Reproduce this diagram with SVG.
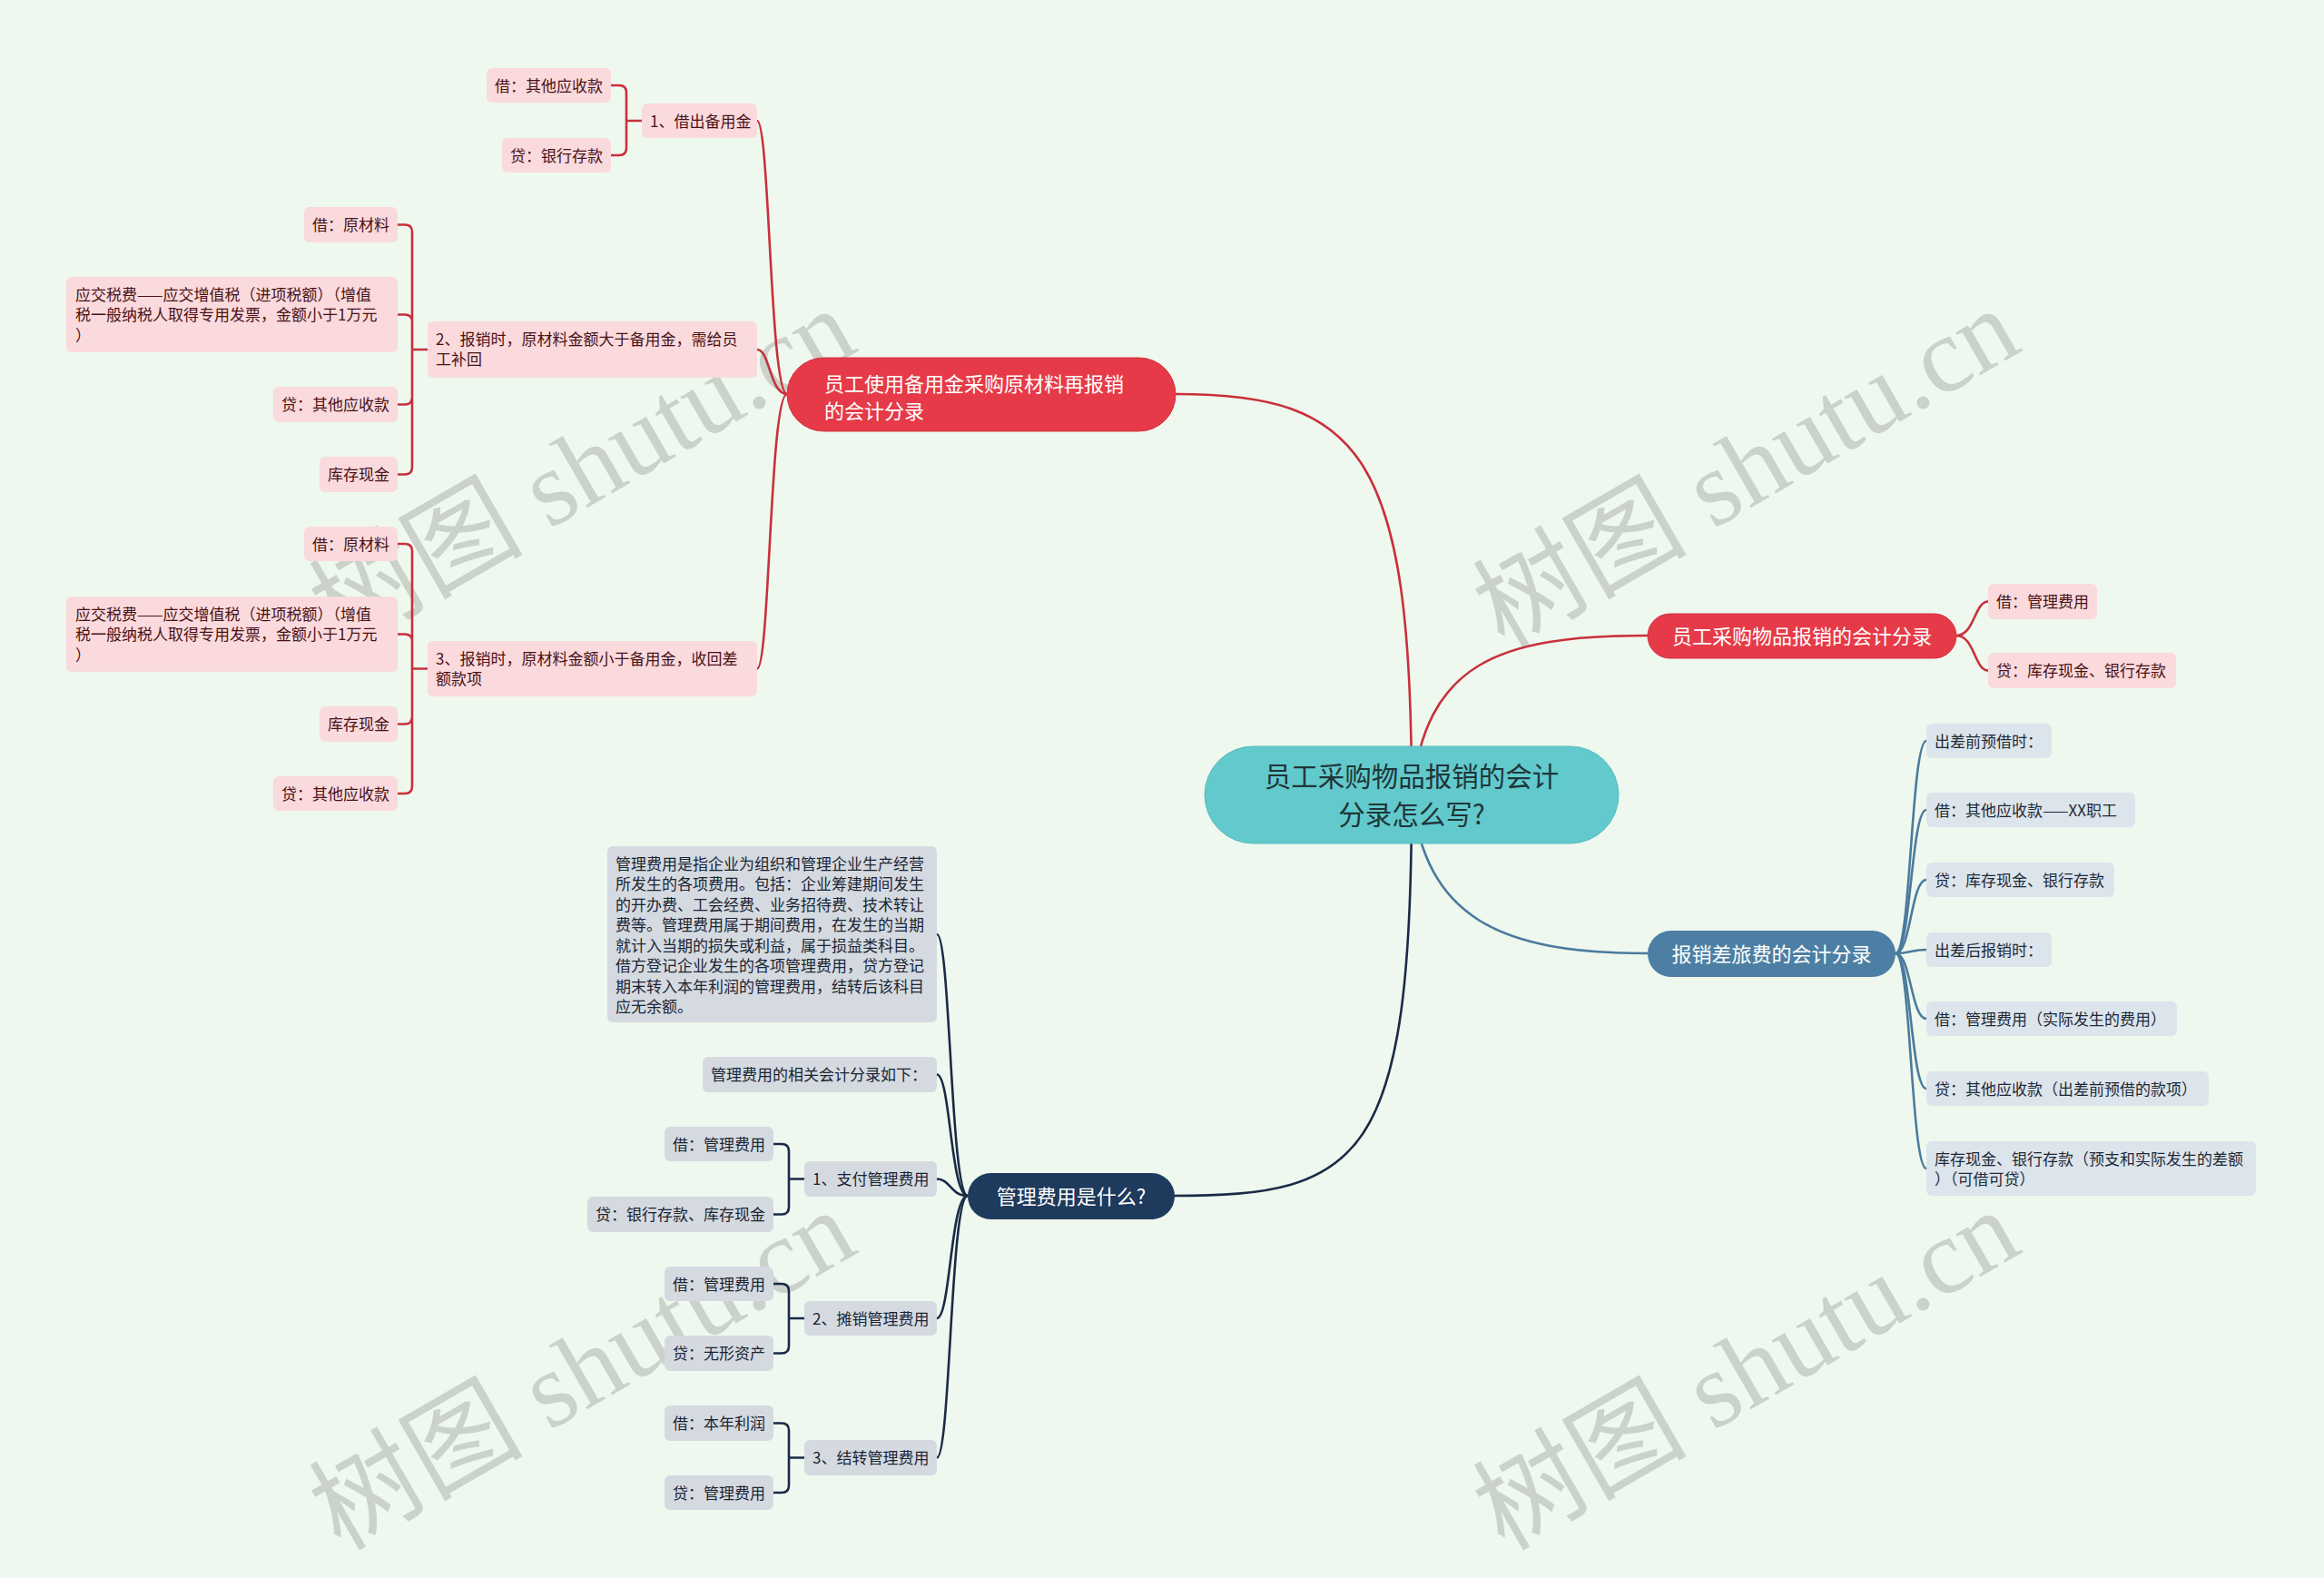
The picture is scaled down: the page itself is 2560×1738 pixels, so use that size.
<svg xmlns="http://www.w3.org/2000/svg" width="2560" height="1738" viewBox="0 0 2560 1738">
<style>
text{font-family:"Noto Sans CJK SC","Noto Sans",sans-serif;}
.wm{font-family:"Liberation Serif","Noto Sans CJK SC",serif;font-size:118px;fill:#8e948e;fill-opacity:0.38;}
.lr{fill:none;stroke:#C8303C;stroke-width:2.6;}
.lb{fill:none;stroke:#4A7B9D;stroke-width:2.6;}
.ln{fill:none;stroke:#1A2B48;stroke-width:2.6;}
.pk{fill:#FADADD;}
.pt{font-size:17px;fill:#4A1216;}
.bl{fill:#DCE4EC;}
.bt{font-size:17px;fill:#1E2A36;}
.gy{fill:#D5DAE1;}
.gt{font-size:17px;fill:#1B2533;}
.red{fill:#E63A48;stroke:#D3303D;stroke-width:1;}
.wt{font-size:22px;fill:#FFFFFF;}
</style>
<rect x="0" y="0" width="2560" height="1738" fill="#EFF8EE"/>
<g id="watermarks">
<text class="wm" x="645" y="555" text-anchor="middle" transform="rotate(-30 645 522)">树图 shutu.cn</text>
<text class="wm" x="1927" y="555" text-anchor="middle" transform="rotate(-30 1927 522)">树图 shutu.cn</text>
<text class="wm" x="645" y="1548" text-anchor="middle" transform="rotate(-30 645 1515)">树图 shutu.cn</text>
<text class="wm" x="1927" y="1548" text-anchor="middle" transform="rotate(-30 1927 1515)">树图 shutu.cn</text>
</g>
<g id="connectors">
<path class="lr" d="M1555,876 C1555,500 1500,434 1295,434"/>
<path class="lr" d="M1555,876 C1570,730 1650,700 1815,700"/>
<path class="lb" d="M1555,876 C1570,1010 1650,1050 1815,1050"/>
<path class="ln" d="M1555,876 C1555,1280 1500,1317 1293,1317"/>
<path class="lr" d="M867,434 C848,434 848,133 834,133"/>
<path class="lr" d="M867,434 C848,434 848,385 834,385"/>
<path class="lr" d="M867,434 C848,434 848,736.5 834,736.5"/>
<path class="lr" d="M707,133 H690 M673,94 H682 Q690,94 690,102 V133 M673,171 H682 Q690,171 690,163 V133"/>
<path class="lr" d="M471,385 H454 M438,247.5 H446 Q454,247.5 454,255.5 V385 M438,346.5 H446 Q454,346.5 454,354.5 V385 M438,445.5 H446 Q454,445.5 454,437.5 V385 M438,522.5 H446 Q454,522.5 454,514.5 V385"/>
<path class="lr" d="M471,736.5 H454 M438,599 H446 Q454,599 454,607 V736.5 M438,698.5 H446 Q454,698.5 454,706.5 V736.5 M438,797.5 H446 Q454,797.5 454,789.5 V736.5 M438,874 H446 Q454,874 454,866 V736.5"/>
<path class="lr" d="M2155,700 C2175,700 2175,662.5 2190,662.5"/>
<path class="lr" d="M2155,700 C2175,700 2175,738.5 2190,738.5"/>
<path class="lb" d="M2088,1050 C2105,1050 2105,816 2122,816"/>
<path class="lb" d="M2088,1050 C2105,1050 2105,892 2122,892"/>
<path class="lb" d="M2088,1050 C2105,1050 2105,969 2122,969"/>
<path class="lb" d="M2088,1050 C2105,1050 2105,1046 2122,1046"/>
<path class="lb" d="M2088,1050 C2105,1050 2105,1122 2122,1122"/>
<path class="lb" d="M2088,1050 C2105,1050 2105,1199 2122,1199"/>
<path class="lb" d="M2088,1050 C2105,1050 2105,1287 2122,1287"/>
<path class="ln" d="M1066,1317 C1047,1317 1047,1029 1032,1029"/>
<path class="ln" d="M1066,1317 C1047,1317 1047,1183.5 1032,1183.5"/>
<path class="ln" d="M1066,1317 C1047,1317 1047,1298.5 1032,1298.5"/>
<path class="ln" d="M1066,1317 C1047,1317 1047,1452 1032,1452"/>
<path class="ln" d="M1066,1317 C1047,1317 1047,1605.5 1032,1605.5"/>
<path class="ln" d="M886,1298.5 H869 M852,1260 H861 Q869,1260 869,1268 V1298.5 M852,1337.5 H861 Q869,1337.5 869,1329.5 V1298.5"/>
<path class="ln" d="M886,1452 H869 M852,1414 H861 Q869,1414 869,1422 V1452 M852,1490.5 H861 Q869,1490.5 869,1482.5 V1452"/>
<path class="ln" d="M886,1605.5 H869 M852,1567.5 H861 Q869,1567.5 869,1575.5 V1605.5 M852,1644 H861 Q869,1644 869,1636 V1605.5"/>
</g>
<g id="root">
<rect x="1327" y="822" width="456" height="107" rx="53.5" fill="#62C9CC" stroke="#58BEC2" stroke-width="1"/>
<text x="1555" y="866" text-anchor="middle" font-size="29.5" fill="#1F3537">员工采购物品报销的会计</text>
<text x="1555" y="908" text-anchor="middle" font-size="29.5" fill="#1F3537">分录怎么写?</text>
</g>
<g id="main-red-left">
<rect class="red" x="867" y="394" width="428" height="81" rx="40.5"/>
<text class="wt" x="908" y="430.5">员工使用备用金采购原材料再报销</text>
<text class="wt" x="908" y="460.5">的会计分录</text>
</g>
<g id="n1"><rect class="pk" x="707" y="114" width="127" height="38" rx="6"/><text class="pt" x="716" y="139.5">1、借出备用金</text></g>
<g id="n1a"><rect class="pk" x="536" y="75" width="137" height="38" rx="6"/><text class="pt" x="545" y="100.5">借：其他应收款</text></g>
<g id="n1b"><rect class="pk" x="553" y="152" width="120" height="38" rx="6"/><text class="pt" x="562" y="177.5">贷：银行存款</text></g>
<g id="n2"><rect class="pk" x="471" y="354" width="363" height="62" rx="6"/><text class="pt" x="480" y="379.5">2、报销时，原材料金额大于备用金，需给员</text><text class="pt" x="480" y="402">工补回</text></g>
<g id="n2a"><rect class="pk" x="335" y="228" width="103" height="39" rx="6"/><text class="pt" x="344" y="254">借：原材料</text></g>
<g id="n2b"><rect class="pk" x="73" y="305" width="365" height="83" rx="6"/><text class="pt" x="83" y="330.5">应交税费——应交增值税（进项税额）（增值</text><text class="pt" x="83" y="353">税一般纳税人取得专用发票，金额小于1万元</text><text class="pt" x="83" y="375.5">）</text></g>
<g id="n2c"><rect class="pk" x="301" y="426" width="137" height="39" rx="6"/><text class="pt" x="310" y="452">贷：其他应收款</text></g>
<g id="n2d"><rect class="pk" x="352" y="503" width="86" height="39" rx="6"/><text class="pt" x="361" y="529">库存现金</text></g>
<g id="n3"><rect class="pk" x="471" y="706" width="363" height="61" rx="6"/><text class="pt" x="480" y="731.5">3、报销时，原材料金额小于备用金，收回差</text><text class="pt" x="480" y="754">额款项</text></g>
<g id="n3a"><rect class="pk" x="335" y="580" width="103" height="38" rx="6"/><text class="pt" x="344" y="605.5">借：原材料</text></g>
<g id="n3b"><rect class="pk" x="73" y="657" width="365" height="83" rx="6"/><text class="pt" x="83" y="682.5">应交税费——应交增值税（进项税额）（增值</text><text class="pt" x="83" y="705">税一般纳税人取得专用发票，金额小于1万元</text><text class="pt" x="83" y="727.5">）</text></g>
<g id="n3c"><rect class="pk" x="352" y="778" width="86" height="39" rx="6"/><text class="pt" x="361" y="804">库存现金</text></g>
<g id="n3d"><rect class="pk" x="301" y="855" width="137" height="38" rx="6"/><text class="pt" x="310" y="880.5">贷：其他应收款</text></g>
<g id="main-red-right">
<rect class="red" x="1815" y="676" width="340" height="49" rx="24.5"/>
<text class="wt" x="1985" y="708.5" text-anchor="middle">员工采购物品报销的会计分录</text>
</g>
<g id="r1"><rect class="pk" x="2190" y="643" width="120" height="39" rx="6"/><text class="pt" x="2199" y="669">借：管理费用</text></g>
<g id="r2"><rect class="pk" x="2190" y="719" width="207" height="39" rx="6"/><text class="pt" x="2199" y="745">贷：库存现金、银行存款</text></g>
<g id="main-blue">
<rect x="1815" y="1025" width="273" height="51" rx="25.5" fill="#4C7FA3"/>
<text class="wt" x="1951.5" y="1058.5" text-anchor="middle">报销差旅费的会计分录</text>
</g>
<g id="b1"><rect class="bl" x="2122" y="797" width="138" height="38" rx="6"/><text class="bt" x="2131" y="822.5">出差前预借时：</text></g>
<g id="b2"><rect class="bl" x="2122" y="873" width="230" height="38" rx="6"/><text class="bt" x="2131" y="898.5">借：其他应收款——XX职工</text></g>
<g id="b3"><rect class="bl" x="2122" y="950" width="207" height="38" rx="6"/><text class="bt" x="2131" y="975.5">贷：库存现金、银行存款</text></g>
<g id="b4"><rect class="bl" x="2122" y="1027" width="138" height="38" rx="6"/><text class="bt" x="2131" y="1052.5">出差后报销时：</text></g>
<g id="b5"><rect class="bl" x="2122" y="1103" width="276" height="38" rx="6"/><text class="bt" x="2131" y="1128.5">借：管理费用（实际发生的费用）</text></g>
<g id="b6"><rect class="bl" x="2122" y="1180" width="311" height="38" rx="6"/><text class="bt" x="2131" y="1205.5">贷：其他应收款（出差前预借的款项）</text></g>
<g id="b7"><rect class="bl" x="2122" y="1257" width="363" height="60" rx="6"/><text class="bt" x="2131" y="1282.5">库存现金、银行存款（预支和实际发生的差额</text><text class="bt" x="2131" y="1305">）（可借可贷）</text></g>
<g id="main-navy">
<rect x="1066" y="1292" width="228" height="51" rx="25.5" fill="#1E3A5C"/>
<text class="wt" x="1180" y="1325.5" text-anchor="middle">管理费用是什么?</text>
</g>
<g id="d1"><rect class="gy" x="669" y="932" width="363" height="194" rx="6"/>
<text class="gt" x="678" y="957.5">管理费用是指企业为组织和管理企业生产经营</text>
<text class="gt" x="678" y="980">所发生的各项费用。包括：企业筹建期间发生</text>
<text class="gt" x="678" y="1002.5">的开办费、工会经费、业务招待费、技术转让</text>
<text class="gt" x="678" y="1025">费等。管理费用属于期间费用，在发生的当期</text>
<text class="gt" x="678" y="1047.5">就计入当期的损失或利益，属于损益类科目。</text>
<text class="gt" x="678" y="1070">借方登记企业发生的各项管理费用，贷方登记</text>
<text class="gt" x="678" y="1092.5">期末转入本年利润的管理费用，结转后该科目</text>
<text class="gt" x="678" y="1115">应无余额。</text>
</g>
<g id="d2"><rect class="gy" x="774" y="1164" width="258" height="39" rx="6"/><text class="gt" x="783" y="1190">管理费用的相关会计分录如下：</text></g>
<g id="d3"><rect class="gy" x="886" y="1279" width="146" height="39" rx="6"/><text class="gt" x="895" y="1305">1、支付管理费用</text></g>
<g id="d3a"><rect class="gy" x="732" y="1241" width="120" height="38" rx="6"/><text class="gt" x="741" y="1266.5">借：管理费用</text></g>
<g id="d3b"><rect class="gy" x="647" y="1318" width="205" height="39" rx="6"/><text class="gt" x="656" y="1344">贷：银行存款、库存现金</text></g>
<g id="d4"><rect class="gy" x="886" y="1433" width="146" height="38" rx="6"/><text class="gt" x="895" y="1458.5">2、摊销管理费用</text></g>
<g id="d4a"><rect class="gy" x="732" y="1395" width="120" height="38" rx="6"/><text class="gt" x="741" y="1420.5">借：管理费用</text></g>
<g id="d4b"><rect class="gy" x="732" y="1471" width="120" height="39" rx="6"/><text class="gt" x="741" y="1497">贷：无形资产</text></g>
<g id="d5"><rect class="gy" x="886" y="1586" width="146" height="39" rx="6"/><text class="gt" x="895" y="1612">3、结转管理费用</text></g>
<g id="d5a"><rect class="gy" x="732" y="1548" width="120" height="39" rx="6"/><text class="gt" x="741" y="1574">借：本年利润</text></g>
<g id="d5b"><rect class="gy" x="732" y="1625" width="120" height="38" rx="6"/><text class="gt" x="741" y="1650.5">贷：管理费用</text></g>
</svg>
